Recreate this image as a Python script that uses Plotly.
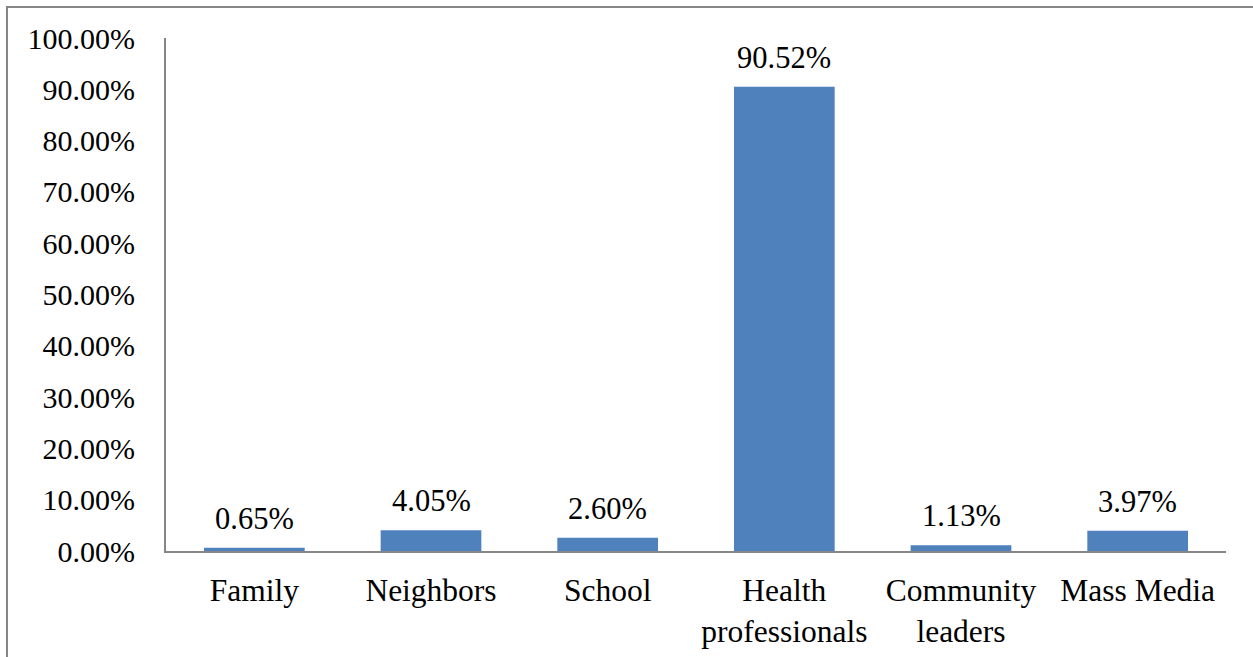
import plotly.graph_objects as go

# Sources of information (percent of respondents)
categories = ["Family", "Neighbors", "School", "Health<br>professionals",
              "Community<br>leaders", "Mass Media"]
shares = [0.65, 4.05, 2.60, 90.52, 1.13, 3.97]
y_ticks = [0, 10, 20, 30, 40, 50, 60, 70, 80, 90, 100]
y_tick_text = [f"{v:.2f}%" for v in y_ticks]

W, H = 1253, 657
ML, MR, MT, MB = 166, 27, 38, 106
FONT = "Liberation Serif, Times New Roman, serif"
AXIS_GREY = "#868686"

fig = go.Figure(go.Bar(
    x=categories,
    y=shares,
    marker=dict(color="#4F81BD", line=dict(width=0)),
    hoverinfo="skip",
))

for cat, val in zip(categories, shares):
    fig.add_annotation(
        x=cat, y=val, text=f"{val:.2f}%",
        showarrow=False, yanchor="bottom", yshift=10,
        font=dict(family=FONT, size=30.5, color="black"),
    )

plot_w = W - ML - MR
plot_h = H - MT - MB
# outer frame (top and left edges visible)
fig.add_shape(
    type="rect", xref="paper", yref="paper",
    x0=(7 - ML) / plot_w, x1=(W + 20 - ML) / plot_w,
    y0=-(H + 20 - MT - plot_h) / plot_h, y1=(plot_h + MT - 7) / plot_h,
    line=dict(color=AXIS_GREY, width=2), fillcolor="rgba(0,0,0,0)",
    layer="below",
)

fig.update_layout(
    width=W, height=H,
    margin=dict(l=ML, r=MR, t=MT, b=MB, pad=0, autoexpand=False),
    paper_bgcolor="white", plot_bgcolor="white",
    bargap=0.43,
    showlegend=False,
    font=dict(family=FONT, size=30, color="black"),
    xaxis=dict(
        showline=True, linecolor=AXIS_GREY, linewidth=2,
        showgrid=False, ticks="", ticklabelstandoff=10,
        tickfont=dict(family=FONT, size=31.5, color="black"),
        automargin=False, fixedrange=True,
    ),
    yaxis=dict(
        range=[0, 100], tickmode="array",
        tickvals=y_ticks, ticktext=y_tick_text,
        showline=True, linecolor=AXIS_GREY, linewidth=2,
        showgrid=False, zeroline=False, ticks="",
        ticklabelstandoff=23,
        tickfont=dict(family=FONT, size=30, color="black"),
        automargin=False, fixedrange=True,
    ),
)

fig.write_html("out.html")
